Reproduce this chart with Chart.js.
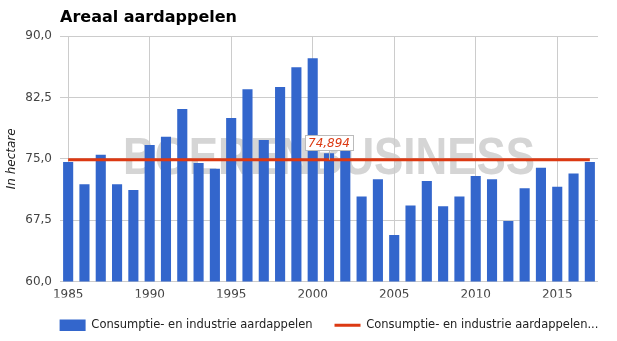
<!DOCTYPE html>
<html>
<head>
<meta charset="utf-8">
<script src="https://cdn.jsdelivr.net/npm/chart.js@4"></script>
<style>
  html, body { margin: 0; padding: 0; background: #fff; }
  #wrap { width: 617px; height: 341px; }
</style>
</head>
<body>
<div id="wrap"><canvas id="chartAreaal" width="617" height="341"></canvas></div>
<script>
// areaal consumptie- en industrieaardappelen, in hectare (x 1000)
const jaren = [
  1985, 1986, 1987, 1988, 1989, 1990, 1991, 1992, 1993, 1994, 1995,
  1996, 1997, 1998, 1999, 2000, 2001, 2002, 2003, 2004, 2005, 2006,
  2007, 2008, 2009, 2010, 2011, 2012, 2013, 2014, 2015, 2016, 2017
];
const areaal = [
  74.6, 71.9, 75.5, 71.9, 71.2, 76.7, 77.7, 81.1, 74.5, 73.8, 80.0,
  83.5, 77.3, 83.8, 86.2, 87.3, 75.7, 77.3, 70.4, 72.5, 65.7, 69.3,
  72.3, 69.2, 70.4, 72.9, 72.5, 67.4, 71.4, 73.9, 71.6, 73.2, 74.6
];
const gemiddelde = 74.894;
const gemiddeldeLijn = jaren.map(() => gemiddelde);
const labelJaar = 2001;

const yTicks = [60, 67.5, 75, 82.5, 90];

const BLAUW = "#3366cc";
const ROOD = "#dc3912";
const GRID = "#cccccc";

const fmt = v => v.toFixed(1).replace(".", ",");

// achtergrond + watermerk
const watermerk = {
  id: "watermerk",
  beforeDraw(chart) {
    const { ctx, chartArea } = chart;
    ctx.save();
    ctx.fillStyle = "#fff";
    ctx.fillRect(0, 0, chart.width, chart.height);
    ctx.font = "bold 52px 'Liberation Sans', Arial, sans-serif";
    ctx.fillStyle = "#d5d5d5";
    ctx.textBaseline = "alphabetic";
    ctx.textAlign = "center";
    const tekst = "BOERENBUSINESS";
    const w = ctx.measureText(tekst).width;
    const cx = (chartArea.left + chartArea.right) / 2;
    ctx.translate(cx, chartArea.top + 138);
    ctx.scale(412 / w, 1);
    ctx.fillText(tekst, 0, 0);
    ctx.restore();
  }
};

// waardelabel boven de gemiddelde lijn
const gemLabel = {
  id: "gemLabel",
  afterDatasetsDraw(chart) {
    const { ctx, scales } = chart;
    const x = scales.x.getPixelForValue(jaren.indexOf(labelJaar));
    const y = scales.y.getPixelForValue(gemiddelde);
    const tekst = gemiddelde.toFixed(3).replace(".", ",");
    ctx.save();
    ctx.font = "italic 12px 'DejaVu Sans', sans-serif";
    const w = ctx.measureText(tekst).width;
    const bw = w + 6, bh = 15;
    const bx = Math.round(x - bw / 2) + 0.5;
    const by = Math.round(y - 10 - bh) + 0.5;
    ctx.strokeStyle = "#bbb";
    ctx.lineWidth = 1;
    ctx.beginPath();
    ctx.moveTo(Math.round(x) + 0.5, by + bh);
    ctx.lineTo(Math.round(x) + 0.5, y);
    ctx.stroke();
    ctx.fillStyle = "#fff";
    ctx.fillRect(bx, by, bw, bh);
    ctx.strokeRect(bx, by, bw, bh);
    ctx.fillStyle = ROOD;
    ctx.textAlign = "center";
    ctx.textBaseline = "middle";
    ctx.fillText(tekst, x, by + bh / 2 + 0.5);
    ctx.restore();
  }
};

// legenda onder het midden van de grafiek zetten
const legendaMidden = {
  id: "legendaMidden",
  afterLayout(chart) {
    const lg = chart.legend, ca = chart.chartArea;
    if (!lg) return;
    const dx = (ca.left + ca.right) / 2 - (lg.left + lg.right) / 2;
    lg.left += dx;
    lg.right += dx;
  }
};

new Chart(document.getElementById("chartAreaal"), {
  data: {
    labels: jaren.map(String),
    datasets: [
      {
        type: "bar",
        label: "Consumptie- en industrie aardappelen",
        data: areaal,
        backgroundColor: BLAUW,
        borderWidth: 0,
        categoryPercentage: 1,
        barPercentage: 0.62,
        pointStyle: "rect",
        order: 1
      },
      {
        type: "line",
        label: "Consumptie- en industrie aardappelen...",
        data: gemiddeldeLijn,
        borderColor: ROOD,
        backgroundColor: ROOD,
        borderWidth: 3,
        pointRadius: 0,
        pointStyle: "line",
        order: 0
      }
    ]
  },
  options: {
    responsive: false,
    animation: false,
    layout: { padding: { left: 0, right: 19, top: 0, bottom: 0 } },
    plugins: {
      title: {
        display: true,
        text: "Areaal aardappelen",
        align: "start",
        fullSize: false,
        color: "#000",
        font: { family: "'DejaVu Sans', sans-serif", size: 16, weight: "bold" },
        padding: { top: 8, bottom: 9 }
      },
      legend: {
        position: "bottom",
        maxHeight: 44,
        labels: {
          usePointStyle: true,
          pointStyleWidth: 26,
          boxHeight: 12,
          padding: 22,
          color: "#222",
          font: { family: "'DejaVu Sans', sans-serif", size: 11.5 },
          sort: (a, b) => a.datasetIndex - b.datasetIndex
        }
      },
      tooltip: { enabled: false }
    },
    scales: {
      x: {
        type: "category",
        offset: true,
        border: { display: false },
        grid: {
          offset: false,
          drawTicks: false,
          color: c => (jaren[c.index] % 5 === 0 ? GRID : "rgba(0,0,0,0)")
        },
        ticks: {
          autoSkip: false,
          maxRotation: 0,
          padding: 6,
          color: "#444",
          font: { family: "'DejaVu Sans', sans-serif", size: 12 },
          callback: (v, i) => (jaren[i] % 5 === 0 ? String(jaren[i]) : "")
        },
        afterFit: s => { s.height = 16; }
      },
      y: {
        min: yTicks[0],
        max: yTicks[yTicks.length - 1],
        border: { display: false },
        grid: { color: GRID, drawTicks: false },
        afterBuildTicks: s => { s.ticks = yTicks.map(v => ({ value: v })); },
        ticks: {
          padding: 8,
          color: "#444",
          font: { family: "'DejaVu Sans', sans-serif", size: 12 },
          callback: v => fmt(v)
        },
        title: {
          display: true,
          text: "In hectare",
          color: "#222",
          font: { family: "'DejaVu Sans', sans-serif", size: 12, style: "italic" },
          padding: { top: 5, bottom: 0 }
        },
        afterFit: s => { s.width = 60; }
      }
    }
  },
  plugins: [watermerk, gemLabel, legendaMidden]
});
</script>
</body>
</html>
